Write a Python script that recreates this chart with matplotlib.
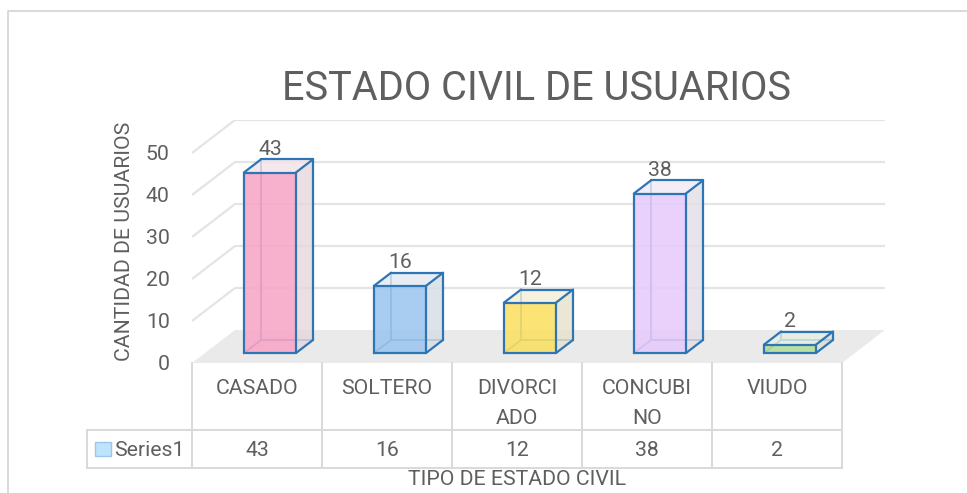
import matplotlib
matplotlib.use("Agg")
import matplotlib.pyplot as plt
from matplotlib.patches import Polygon
from matplotlib.lines import Line2D
import matplotlib.transforms as mtrans
import matplotlib.colors as mcolors
import numpy as np

# ---------------- data ----------------
categories = ["CASADO", "SOLTERO", "DIVORCIADO", "CONCUBINO", "VIUDO"]
cat_labels = ["CASADO", "SOLTERO", "DIVORCI\nADO", "CONCUBI\nNO", "VIUDO"]
values = [43, 16, 12, 38, 2]
series_name = "Series1"
y_ticks = [0, 10, 20, 30, 40, 50]
title = "ESTADO CIVIL DE USUARIOS"
xlabel = "TIPO DE ESTADO CIVIL"
ylabel = "CANTIDAD DE USUARIOS"
bar_colors = ["#F8A6C7", "#9DC6EE", "#FBE063", "#E6CBFB", "#B5DE97"]

# ---------------- style ----------------
plt.rcParams['font.family'] = ['Roboto', 'DejaVu Sans']
TXT = "#5F5F5F"
GRID = "#E4E4E4"
FLOOR = "#EAEAEA"
EDGE = "#2E75B6"
TABLE = "#D9D9D9"
FS = 15.3

W, H = 967, 493
fig = plt.figure(figsize=(W / 100, H / 100), dpi=100)

n = len(categories)
PX_CAT = 130.0      # pixels per category
PX_VAL = 4.2        # pixels per value unit
DX = 43 / PX_CAT    # depth offset (category units) for full floor depth
DY = 33 / PX_VAL    # depth offset (value units) for full floor depth
X0, Y0 = 192, 363   # front-left corner of the floor (pixels)
ymax = max(y_ticks)

ax = fig.add_axes([X0 / W, (H - Y0) / H,
                   (n + DX) * PX_CAT / W, (ymax + DY) * PX_VAL / H])
ax.set_xlim(0, n + DX)
ax.set_ylim(0, ymax + DY)
for s in ax.spines.values():
    s.set_visible(False)
ax.set_xticks([])
ax.set_yticks(y_ticks)
ax.set_yticklabels([str(t) for t in y_ticks], color=TXT, fontsize=FS)
ax.tick_params(axis='y', length=0, pad=16)
ax.patch.set_alpha(0)


def proj(x, v, d):
    return (x + d * DX, v + d * DY)


# floor
ax.add_patch(Polygon([proj(0, 0, 0), proj(n, 0, 0), proj(n, 0, 1), proj(0, 0, 1)],
                     closed=True, facecolor=FLOOR, edgecolor='none', zorder=1))
# gridlines (side wall + back wall)
for t in y_ticks[1:]:
    pts = [proj(0, t, 0), proj(0, t, 1), proj(n, t, 1)]
    ax.plot([p[0] for p in pts], [p[1] for p in pts], color=GRID, lw=1.6,
            zorder=0.5, solid_capstyle='butt')


def mix(c, other, f):
    a = np.array(mcolors.to_rgb(c))
    b = np.array(mcolors.to_rgb(other))
    return tuple(a * (1 - f) + b * f)


# bars
B0, B1 = 0.3, 0.7
for i, (v, col) in enumerate(zip(values, bar_colors)):
    x0, x1 = i + B0, i + B1
    FBL, FBR = proj(x0, 0, B0), proj(x1, 0, B0)
    FTL, FTR = proj(x0, v, B0), proj(x1, v, B0)
    BBL, BBR = proj(x0, 0, B1), proj(x1, 0, B1)
    BTL, BTR = proj(x0, v, B1), proj(x1, v, B1)
    # hidden edges
    for a, b in [(BBL, BTL), (BBL, BBR), (BBL, FBL)]:
        ax.plot([a[0], b[0]], [a[1], b[1]], color=EDGE, lw=1.3, zorder=2)
    side = mix(col, "#E2E2E2", 0.82)
    top = mix(col, "#F2F2F2", 0.8)
    ax.add_patch(Polygon([FBR, BBR, BTR, FTR], closed=True, facecolor=side,
                         edgecolor='none', alpha=0.8, zorder=3))
    ax.add_patch(Polygon([FTL, FTR, BTR, BTL], closed=True, facecolor=top,
                         edgecolor='none', alpha=0.8, zorder=3))
    ax.add_patch(Polygon([FBL, FBR, FTR, FTL], closed=True, facecolor=col,
                         edgecolor='none', alpha=0.88, zorder=3))
    for a, b in [(FBL, FBR), (FBR, FTR), (FTR, FTL), (FTL, FBL),
                 (FBR, BBR), (BBR, BTR), (BTR, FTR), (FTL, BTL), (BTL, BTR)]:
        ax.plot([a[0], b[0]], [a[1], b[1]], color=EDGE, lw=1.6, zorder=4,
                solid_capstyle='round')
    ax.text(i + 0.5 + B0 * DX, v + 6.5, str(v), ha='center', va='baseline',
            color=TXT, fontsize=FS, zorder=5, clip_on=False)

# ---------------- data table ----------------
def fy(ypx):
    return 1 - ypx / H

bt = mtrans.blended_transform_factory(ax.transData, fig.transFigure)
ROW1, ROW2 = 430, 468
LEFT_CELL = (87 - X0) / PX_CAT


def hline(xa, xb, ypx):
    fig.add_artist(Line2D([xa, xb], [fy(ypx), fy(ypx)], transform=bt,
                          color=TABLE, lw=1.4))


def vline(x, ya, yb):
    fig.add_artist(Line2D([x, x], [fy(ya), fy(yb)], transform=bt,
                          color=TABLE, lw=1.4))


for k in range(n + 1):
    vline(k, Y0, ROW2)
vline(LEFT_CELL, ROW1, ROW2)
hline(LEFT_CELL, n, ROW1)
hline(LEFT_CELL, n, ROW2)

for i, (lab, v) in enumerate(zip(cat_labels, values)):
    for k, line in enumerate(lab.split("\n")):
        fig.text(i + 0.5, fy(394 + 30 * k), line, transform=bt, ha='center',
                 va='baseline', color=TXT, fontsize=FS)
    fig.text(i + 0.5, fy(456), str(v), transform=bt, ha='center',
             va='baseline', color=TXT, fontsize=FS)

# legend key + series name
key_x0 = (95 - X0) / PX_CAT
key_x1 = (111 - X0) / PX_CAT
fig.add_artist(Polygon([(key_x0, fy(442)), (key_x1, fy(442)),
                        (key_x1, fy(456)), (key_x0, fy(456))], closed=True,
                       transform=bt, facecolor="#BDE3FD", edgecolor="#9DC6EE",
                       lw=1))
fig.text((114 - X0) / PX_CAT, fy(456), series_name, transform=bt, ha='left',
         va='baseline', color=TXT, fontsize=FS)

# axis titles and chart title
fig.text(n / 2, fy(485), xlabel, transform=bt, ha='center', va='baseline',
         color=TXT, fontsize=FS)
fig.text(124 / W, fy(241), ylabel, rotation=90, ha='center', va='center',
         color=TXT, fontsize=FS)
fig.text(536 / W, fy(88), title, ha='center', va='center', color=TXT,
         fontsize=28.6)

# chart border (left and top)
fig.add_artist(Line2D([8 / W, 8 / W, 1.0], [0.0, fy(11), fy(11)],
                      transform=fig.transFigure, color=TABLE, lw=1.4))

fig.savefig("out.png", dpi=100)
